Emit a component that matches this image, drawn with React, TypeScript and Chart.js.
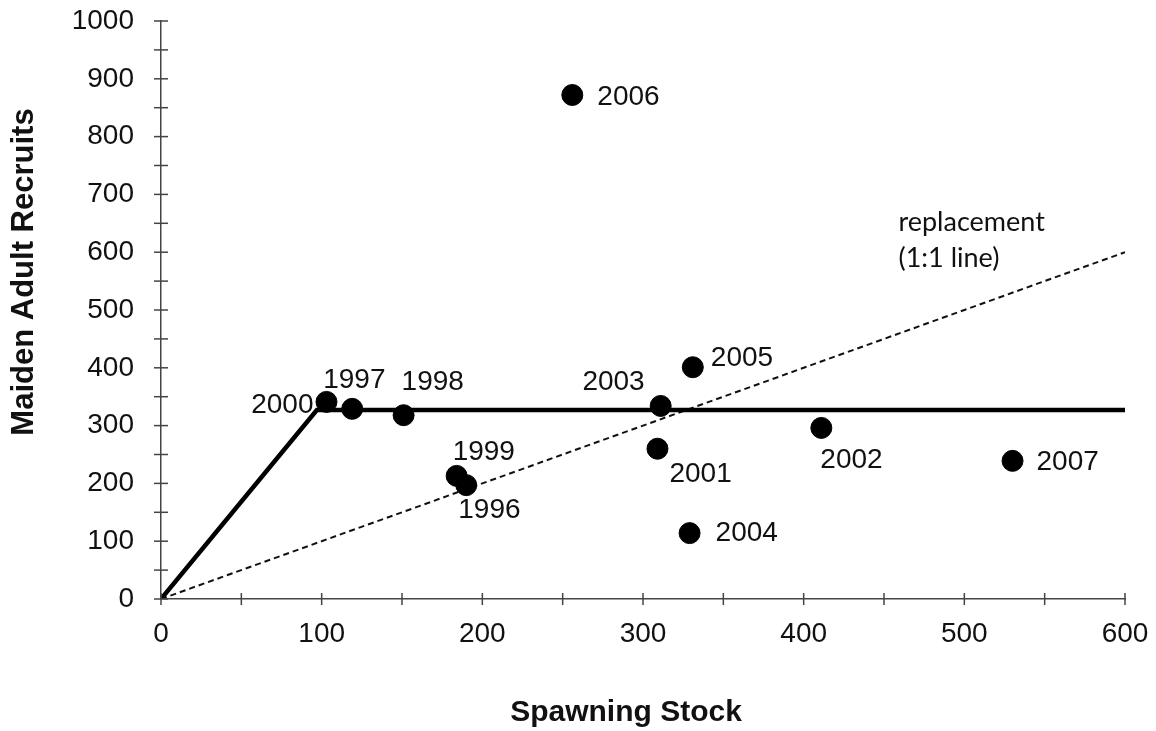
import React, { useEffect, useRef } from "react";
import { Chart, registerables } from "chart.js";

Chart.register(...registerables);

const years = ["1996", "1997", "1998", "1999", "2000", "2001", "2002", "2003", "2004", "2005", "2006", "2007"];
const stock = [190, 119, 151, 184, 103, 309, 411, 311, 329, 331, 256, 530];
const recruits = [197, 329, 318, 213, 341, 260, 296, 334, 114, 401, 872, 239];

const hockeyX = [0, 97, 600];
const hockeyY = [0, 327, 327];
const replaceX = [0, 600];
const replaceY = [0, 600];

const xTickValues = [0, 100, 200, 300, 400, 500, 600];
const yTickValues = [0, 100, 200, 300, 400, 500, 600, 700, 800, 900, 1000];

const xTitle = "Spawning Stock";
const yTitle = "Maiden Adult Recruits";
const noteLines = ["replacement", "(1:1 line)"];
const noteAt = { x: 459, y: 652 };

// label offsets (px) and alignment relative to each point
const labelPlace: Record<string, [number, number, CanvasTextAlign]> = {
  "1996": [-8, 25, "left"],
  "1997": [-29, -29, "left"],
  "1998": [-2, -33, "left"],
  "1999": [-4, -24, "left"],
  "2000": [-13, 3, "right"],
  "2001": [12, 26, "left"],
  "2002": [-1, 32, "left"],
  "2003": [-16, -24, "right"],
  "2004": [26, 0, "left"],
  "2005": [18, -9, "left"],
  "2006": [25, 2, "left"],
  "2007": [24, 1, "left"],
};

const FONT = "'Liberation Sans', Arial, sans-serif";

const decorPlugin = {
  id: "decor",
  afterDraw(chart: any) {
    const ctx = chart.ctx;
    const xs = chart.scales.x;
    const ys = chart.scales.y;
    const area = chart.chartArea;
    ctx.save();
    ctx.strokeStyle = "#444";
    ctx.lineWidth = 1.5;
    for (let v = 0; v <= 600; v += 50) {
      const px = xs.getPixelForValue(v);
      ctx.beginPath();
      ctx.moveTo(px, area.bottom - 6);
      ctx.lineTo(px, area.bottom + 6);
      ctx.stroke();
    }
    for (let v = 0; v <= 1000; v += 50) {
      const py = ys.getPixelForValue(v);
      ctx.beginPath();
      ctx.moveTo(area.left - 7, py);
      ctx.lineTo(area.left + 7, py);
      ctx.stroke();
    }
    ctx.fillStyle = "#111";
    ctx.font = `28px ${FONT}`;
    ctx.textBaseline = "middle";
    years.forEach((yr, i) => {
      const px = xs.getPixelForValue(stock[i]);
      const py = ys.getPixelForValue(recruits[i]);
      const [dx, dy, al] = labelPlace[yr];
      ctx.textAlign = al;
      ctx.fillText(yr, px + dx, py + dy);
    });
    ctx.font = `27px Lato, 'Open Sans', sans-serif`;
    ctx.textAlign = "left";
    const nx = xs.getPixelForValue(noteAt.x);
    const ny = ys.getPixelForValue(noteAt.y);
    ctx.fillText(noteLines[0], nx, ny);
    ctx.fillText(noteLines[1], nx, ny + 36);
    ctx.font = `bold 30px ${FONT}`;
    ctx.textAlign = "center";
    ctx.fillText(xTitle, 626, 713);
    ctx.translate(24, 272);
    ctx.rotate(-Math.PI / 2);
    ctx.font = `bold 31px ${FONT}`;
    ctx.fillText(yTitle, 0, 0);
    ctx.restore();
  },
};

export default function App() {
  const ref = useRef<HTMLCanvasElement>(null);
  useEffect(() => {
    document.body.style.margin = "0";
    const chart = new Chart(ref.current!, {
      type: "scatter",
      data: {
        datasets: [
          {
            type: "line",
            data: replaceX.map((x, i) => ({ x, y: replaceY[i] })),
            borderColor: "#111",
            borderWidth: 2,
            borderDash: [6, 4],
            pointRadius: 0,
            fill: false,
            order: 3,
          },
          {
            type: "line",
            data: hockeyX.map((x, i) => ({ x, y: hockeyY[i] })),
            borderColor: "#000",
            borderWidth: 4.5,
            pointRadius: 0,
            fill: false,
            order: 2,
          },
          {
            data: stock.map((x, i) => ({ x, y: recruits[i] })),
            backgroundColor: "#000",
            borderColor: "#000",
            pointRadius: 10.5,
            order: 1,
          },
        ],
      },
      options: {
        responsive: false,
        animation: false,
        layout: { autoPadding: false, padding: { top: 21, right: 31, left: 0, bottom: 0 } },
        plugins: { legend: { display: false }, tooltip: { enabled: false } },
        scales: {
          x: {
            type: "linear",
            min: 0,
            max: 600,
            afterFit: (s: any) => { s.height = 132; s.paddingLeft = 0; s.paddingRight = 0; },
            afterBuildTicks: (s: any) => { s.ticks = xTickValues.map((v) => ({ value: v })); },
            grid: { display: false },
            border: { display: true, color: "#444", width: 1.5 },
            ticks: { color: "#111", font: { size: 28, family: FONT }, padding: 10, maxRotation: 0, callback: (v: any) => String(v) },
          },
          y: {
            type: "linear",
            min: 0,
            max: 1000,
            afterFit: (s: any) => { s.width = 161; s.paddingTop = 0; s.paddingBottom = 0; },
            afterBuildTicks: (s: any) => { s.ticks = yTickValues.map((v) => ({ value: v })); },
            grid: { display: false },
            border: { display: true, color: "#444", width: 1.5 },
            ticks: { color: "#111", font: { size: 28, family: FONT }, padding: 19, callback: (v: any) => String(v) },
          },
        },
      },
      plugins: [decorPlugin],
    } as any);
    return () => chart.destroy();
  }, []);
  return <canvas ref={ref} width={1156} height={731} style={{ display: "block" }} />;
}
